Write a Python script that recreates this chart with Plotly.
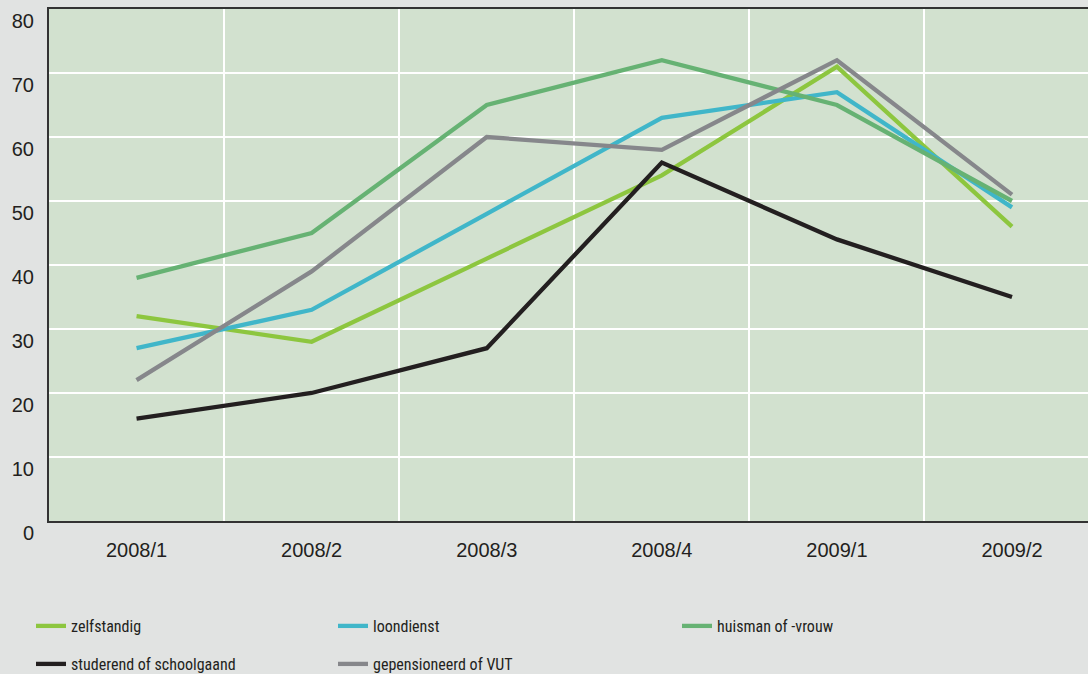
import plotly.graph_objects as go

categories = ["2008/1", "2008/2", "2008/3", "2008/4", "2009/1", "2009/2"]
zelfstandig = [32, 28, 41, 54, 71, 46]
loondienst = [27, 33, 48, 63, 67, 49]
huisman = [38, 45, 65, 72, 65, 50]
studerend = [16, 20, 27, 56, 44, 35]
gepensioneerd = [22, 39, 60, 58, 72, 51]
y_ticks = [0, 10, 20, 30, 40, 50, 60, 70, 80]

series = [
    ("zelfstandig", zelfstandig, "#8dc63f"),
    ("loondienst", loondienst, "#40b6c9"),
    ("huisman of -vrouw", huisman, "#66b273"),
    ("studerend of schoolgaand", studerend, "#231f20"),
    ("gepensioneerd of VUT", gepensioneerd, "#86878b"),
]
legend_ids = ["legend", "legend2", "legend3", "legend4", "legend5"]
# legend box positions in page pixels (left edge, vertical middle)
legend_pos = [(31, 626), (333, 626), (677, 626), (31, 664), (333, 664)]

fig = go.Figure()
for (name, vals, col), lg in zip(series, legend_ids):
    fig.add_trace(go.Scatter(
        x=categories, y=vals, mode="lines", name=name,
        line=dict(color=col, width=4.3), legend=lg,
    ))

W, H = 1088, 674
left, top, bottom_px = 49, 9, 521
plot_w = W - left
plot_h = bottom_px - top

legend_font = dict(family="Liberation Sans Narrow, Arial Narrow, Roboto Condensed, Liberation Sans",
                   size=16, color="#231f20")

legends = {}
for lg, (px, py) in zip(legend_ids, legend_pos):
    legends[lg] = dict(
        orientation="h", x=(px - left) / plot_w, xanchor="left",
        y=(bottom_px - py) / plot_h, yanchor="middle",
        font=legend_font, bgcolor="rgba(0,0,0,0)",
    )

fig.update_layout(
    width=W, height=H,
    margin=dict(l=left, r=0, t=top, b=H - bottom_px, autoexpand=False),
    paper_bgcolor="#e1e3e2",
    plot_bgcolor="#d2e1cf",
    font=dict(family="Liberation Sans, Arial, sans-serif", size=20, color="#231f20"),
    showlegend=True,
    xaxis=dict(
        type="category", range=[-0.5, 5.434], tickson="boundaries",
        showgrid=True, gridcolor="#ffffff", gridwidth=2,
        showline=True, linecolor="#333333", linewidth=2, mirror=True,
        ticks="", ticklabelstandoff=10, zeroline=False, fixedrange=True,
    ),
    yaxis=dict(
        range=[0, 80], tickvals=y_ticks, showgrid=True, gridcolor="#ffffff", gridwidth=2,
        showline=True, linecolor="#333333", linewidth=2,
        ticks="", ticklabelstandoff=9, ticklabelshift=12, zeroline=False, fixedrange=True,
    ),
    **legends,
)

fig.write_html(
    "out.html",
    config={"displayModeBar": False},
    post_script="document.body.style.margin='0';document.body.style.background='#e1e3e2';document.body.style.overflow='hidden';",
)
